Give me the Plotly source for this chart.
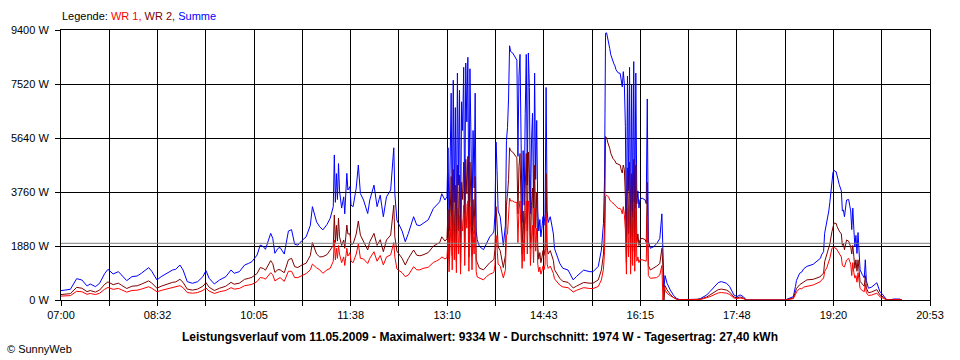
import plotly.graph_objects as go

# ---------------- data ----------------
times = [
    "07:00","07:09","07:15","07:20","07:25","07:28","07:33","07:37","07:42","07:45",
    "07:50","07:55","07:58","08:03","08:08","08:13","08:17","08:24","08:27","08:32",
    "08:36","08:41","08:47","08:50","08:54","08:57","09:01","09:06","09:11","09:16",
    "09:19","09:22","09:27","09:32","09:38","09:43","09:46","09:51","09:56","10:00",
    "10:03","10:08","10:11","10:14","10:16","10:21","10:23","10:25","10:28",
    "10:30","10:34","10:38","10:41","10:44","10:47","10:51","10:55","10:59","11:01",
    "11:05","11:08","11:11","11:15","11:18","11:21","11:22","11:23","11:24","11:25",
    "11:26","11:27","11:29","11:31","11:32","11:34","11:35","11:37","11:38","11:40",
    "11:43","11:45","11:47","11:50","11:54","11:56","12:00","12:03","12:06","12:09",
    "12:12","12:16","12:19","12:20","12:22","12:27","12:30","12:33","12:38","12:41",
    "12:44","12:47","12:52","12:57","13:00","13:03","13:05","13:08",
    "13:10","13:11","13:12","13:13","13:14","13:15","13:16","13:17","13:18","13:19",
    "13:20","13:21","13:22","13:23","13:24","13:25","13:26","13:27","13:28","13:29",
    "13:30","13:31","13:32","13:33","13:34","13:35","13:36","13:37","13:38","13:39",
    "13:41","13:45","13:48","13:51","13:54",
    "13:55","13:56","13:57","13:58","13:59","14:01","14:04","14:06","14:07","14:08",
    "14:09","14:10","14:11","14:13","14:15","14:16","14:17","14:18","14:19","14:20",
    "14:21","14:22","14:23","14:24","14:25","14:26","14:27","14:28","14:29","14:30",
    "14:31","14:32","14:33","14:34","14:35","14:36","14:37","14:38","14:39","14:40",
    "14:41","14:42","14:43","14:44","14:45","14:46","14:47","14:49","14:52","14:53",
    "14:58","15:01","15:06","15:11","15:14","15:21","15:27","15:30","15:35","15:37",
    "15:38","15:40","15:41","15:42","15:43","15:44","15:45","15:46","15:47","15:48",
    "15:49","15:50","15:51","15:52","15:54","15:56","15:57","15:58","15:59","16:00",
    "16:01","16:02","16:03","16:04","16:05","16:06","16:07","16:08","16:09","16:10",
    "16:11","16:12","16:13","16:14","16:15","16:17","16:20","16:21","16:22","16:23",
    "16:25","16:28","16:31","16:34","16:36","16:37","16:38","16:39","16:41","16:44",
    "16:47","16:50","16:53","17:00","17:10","17:13","17:16","17:19","17:22","17:25",
    "17:28","17:30","17:33","17:36","17:38","17:41","17:45","17:48","17:51","17:54",
    "17:57","18:34",
    "18:40","18:42","18:44","18:45","18:48","18:50","18:52","18:55","19:01","19:08",
    "19:09","19:11","19:12","19:14","19:16","19:17","19:19","19:20","19:21","19:22",
    "19:23","19:24","19:25","19:26","19:28","19:29","19:30","19:31","19:33","19:35",
    "19:36","19:37","19:38","19:39","19:40","19:41","19:42","19:43","19:44","19:45",
    "19:46","19:48","19:50","19:51","19:52","19:54","19:57","20:02","20:05","20:08",
    "20:11","20:14","20:18","20:24","20:26",
]

# WR 2 (dark red), watts
wr2 = [
    190,220,440,410,290,330,275,345,550,630,
    535,585,515,400,480,495,550,665,590,410,
    480,550,615,630,720,615,380,345,380,480,
    605,445,330,410,480,615,550,585,720,755,
    790,925,1130,1095,1040,1370,1265,960,1060,
    1050,950,1400,1450,1160,1130,1220,1280,1550,2000,
    1600,1500,1510,1580,1740,1900,2960,2000,2600,2050,
    2850,2200,1900,2090,1800,2610,2300,2300,1950,1950,
    2300,2750,2260,2050,1740,2030,2320,1900,2100,1680,
    2090,2260,3300,2200,1700,1450,1220,1450,1740,1560,
    1540,1570,1650,1880,1950,2000,2200,2050,
    2130,3150,1420,3000,4300,1550,4550,2000,4000,1350,
    4700,2400,4350,1300,4100,3500,4800,1800,4900,3700,
    5000,1500,4800,3350,1550,3500,2300,4300,1420,1300,
    1110,1050,1180,1300,1380,
    1420,1780,3250,2680,1850,1720,1130,1550,3300,3700,
    4200,5300,5200,5150,5050,5000,4950,3000,4650,5100,
    2700,1600,3100,1950,3900,5100,2400,5150,4400,1800,
    3300,3900,1900,4700,2500,3750,1850,1420,1650,1300,
    1480,1720,1550,1780,4400,1850,1600,1720,1370,1060,
    760,650,615,420,480,610,585,585,700,880,
    1040,1600,2500,5690,5650,5500,5400,5280,5110,5000,
    4930,4880,4850,4760,4720,4700,4530,4420,4700,4550,
    3600,1300,4600,2300,4800,1250,4400,1700,4900,1500,
    4700,2000,2300,1900,2100,2150,2100,2000,4100,1200,
    1045,1100,1180,1270,1800,1150,0,500,350,200,
    90,30,10,12,12,30,70,105,175,240,
    310,360,380,370,345,275,105,70,105,70,
    0,0,
    40,70,280,400,530,580,640,700,720,813,
    870,929,1330,1550,1800,1950,2380,2610,2680,2670,
    2670,2550,2440,2400,2300,1900,1970,1750,2090,2050,
    1950,1850,1600,1900,1510,1100,1400,1000,1400,900,
    650,560,480,850,420,250,280,360,180,110,
    15,0,20,20,0,
]

# WR 1 (red), watts
wr1 = [
    136,152,303,287,198,228,190,236,379,438,
    371,402,356,274,333,341,380,461,410,287,
    333,379,430,438,499,430,259,236,259,333,
    417,310,228,287,333,430,379,402,499,522,
    545,642,785,762,724,951,882,665,739,
    780,650,1000,1000,780,780,850,920,1050,1250,
    1120,1050,930,1050,1100,1350,2090,1400,1800,1450,
    1900,1600,1300,1500,1200,1800,1530,1650,1350,1300,
    1600,1950,1450,1430,1270,1450,1680,1350,1550,1220,
    1500,1570,2000,1500,1080,950,810,870,1160,1050,
    1050,1100,1140,1310,1360,1420,1500,1430,
    1470,2150,980,2100,2900,1050,3100,1400,2700,950,
    3200,1600,2950,900,2800,2400,3300,1200,3350,2500,
    3450,1000,3250,2250,1050,2400,1600,2900,980,800,
    760,700,820,900,940,
    980,1220,2250,1820,1250,1180,770,1050,2250,2300,
    2800,3550,3450,3450,3400,3400,3400,2000,3150,3450,
    1800,1100,2100,1350,2600,3450,1600,3450,3000,1200,
    2200,2600,1300,3200,1700,2500,1250,980,1150,900,
    1020,1180,1050,1220,3000,1250,1100,1180,930,740,
    520,455,430,280,335,430,400,400,470,600,
    700,1070,1680,3600,3650,3620,3580,3480,3430,3400,
    3380,3340,3300,3260,3190,3190,3130,3000,3250,2980,
    2450,900,3200,1500,3300,900,3100,1200,3400,1000,
    3200,1350,1500,1300,1400,1400,1380,1350,2900,850,
    755,755,780,870,1200,0,450,350,230,150,
    80,25,5,8,8,20,48,70,115,166,
    213,246,260,250,237,191,71,48,71,48,
    0,0,
    30,47,185,280,400,390,450,470,523,639,
    700,755,990,1120,1300,1450,1800,1830,1840,1800,
    1800,1740,1680,1620,1500,1200,1160,1150,1390,1450,
    1350,1250,850,1300,950,760,850,620,950,550,
    400,330,290,550,250,160,170,240,110,65,
    10,0,12,12,0,
]

# Summe = WR 1 + WR 2 (as in the original chart)
summe = [a + b for a, b in zip(wr1, wr2)]

y_ticks = [0, 1880, 3760, 5640, 7520, 9400]
y_labels = ["0 W", "1880 W", "3760 W", "5640 W", "7520 W", "9400 W"]
x_labels = ["07:00", "08:32", "10:05", "11:38", "13:10", "14:43",
            "16:15", "17:48", "19:20", "20:53"]
average_w = 1974

legend_text = ("Legende: <span style='color:#FF0000'>WR 1,</span> "
               "<span style='color:#800000'>WR 2,</span> "
               "<span style='color:#0000FF'>Summe</span>")
title_text = ("Leistungsverlauf vom 11.05.2009 - Maximalwert: 9334 W - "
              "Durchschnitt: 1974 W - Tagesertrag: 27,40 kWh")
copyright_text = "© SunnyWeb"

# ---------------- helpers ----------------
def to_min(s):
    h, m = s.split(":")
    return int(h) * 60 + int(m)

x = [to_min(t) for t in times]
x_start = to_min(x_labels[0])
x_end = to_min(x_labels[-1])
n_grid = 2 * (len(x_labels) - 1)
step = (x_end - x_start) / n_grid
x_grid = [x_start + i * step for i in range(n_grid + 1)]
x_text = [x_labels[i // 2] if i % 2 == 0 else "" for i in range(n_grid + 1)]

FONT = "Liberation Sans, Arial, sans-serif"

fig = go.Figure()
fig.add_trace(go.Scatter(x=x, y=summe, mode="lines", name="Summe",
                         line=dict(color="#0000FF", width=1)))
fig.add_trace(go.Scatter(x=x, y=wr2, mode="lines", name="WR 2",
                         line=dict(color="#800000", width=1)))
fig.add_trace(go.Scatter(x=x, y=wr1, mode="lines", name="WR 1",
                         line=dict(color="#FF0000", width=1)))

fig.add_shape(type="line", xref="x", yref="y", x0=x_start, x1=x_end,
              y0=average_w, y1=average_w, layer="above",
              line=dict(color="#808080", width=1))

fig.add_annotation(text=legend_text, xref="paper", yref="paper",
                   x=-0.001, y=1.05, xanchor="left", yanchor="middle",
                   showarrow=False, font=dict(family=FONT, size=11, color="black"))
fig.add_annotation(text=copyright_text, xref="paper", yref="paper",
                   x=-0.0644, y=-0.1815, xanchor="left", yanchor="middle",
                   showarrow=False, font=dict(family=FONT, size=11, color="black"))

fig.update_layout(
    width=960, height=360,
    margin=dict(l=61, r=30, t=30, b=60),
    paper_bgcolor="white", plot_bgcolor="white",
    showlegend=False,
    font=dict(family=FONT, size=11, color="black"),
    title=dict(text="<b>" + title_text + "</b>", x=0.5, xref="container",
               xanchor="center", y=1 - 337 / 360, yref="container",
               yanchor="middle", font=dict(family=FONT, size=12, color="black")),
    xaxis=dict(range=[x_start, x_end], tickmode="array", tickvals=x_grid,
               ticktext=x_text, ticks="outside", ticklen=5, tickcolor="black",
               showgrid=True, gridcolor="black", gridwidth=1,
               showline=True, linecolor="black", linewidth=1, mirror=True,
               zeroline=False, tickfont=dict(family=FONT, size=11, color="black")),
    yaxis=dict(range=[0, 9400], tickmode="array", tickvals=y_ticks,
               ticktext=y_labels, ticks="outside", ticklen=5, tickcolor="black",
               ticklabelstandoff=4,
               showgrid=True, gridcolor="black", gridwidth=1,
               showline=True, linecolor="black", linewidth=1, mirror=True,
               zeroline=False, tickfont=dict(family=FONT, size=11, color="black")),
)

fig.write_html("out.html",
               config={"displayModeBar": False},
               post_script="document.body.style.margin='0';document.body.style.padding='0';")
